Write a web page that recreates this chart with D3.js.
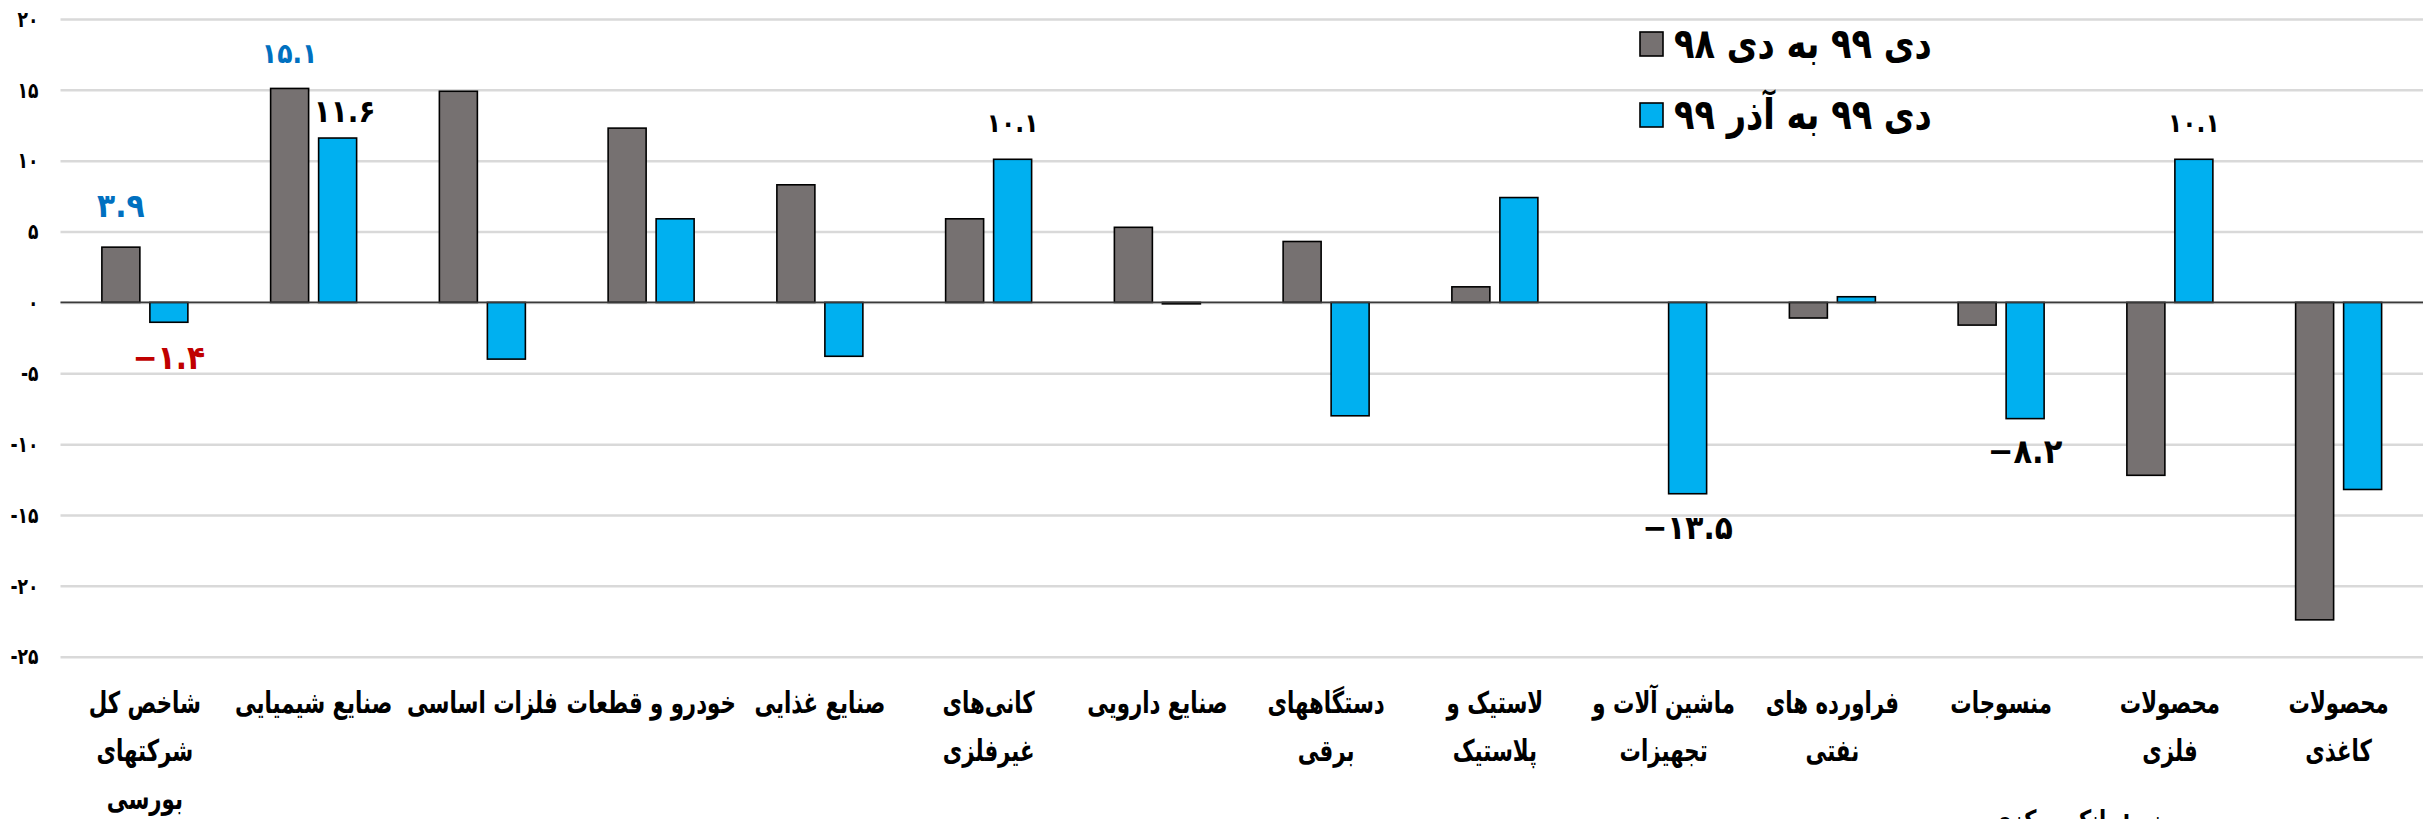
<!DOCTYPE html>
<html>
<head>
<meta charset="utf-8">
<script src="https://cdn.jsdelivr.net/npm/d3@7"></script>
<style>
  html, body { margin: 0; padding: 0; background: #fff; }
  svg { display: block; }
  text { font-family: "DejaVu Sans", sans-serif; font-weight: bold; }
</style>
</head>
<body>
<svg id="chart" width="2432" height="819"></svg>
<script>
// ---------- data ----------
const categories = [
  "شاخص کل\nشرکتهای\nبورسی",
  "صنایع شیمیایی",
  "فلزات اساسی",
  "خودرو و قطعات",
  "صنایع غذایی",
  "کانی‌های\nغیرفلزی",
  "صنایع دارویی",
  "دستگاههای\nبرقی",
  "لاستیک و\nپلاستیک",
  "ماشین آلات و\nتجهیزات",
  "فراورده های\nنفتی",
  "منسوجات",
  "محصولات\nفلزی",
  "محصولات\nکاغذی"
];
const seriesNames = ["دی ۹۹ به دی ۹۸", "دی ۹۹ به آذر ۹۹"];
const yoyValues = [3.9, 15.1, 14.9, 12.3, 8.3, 5.9, 5.3, 4.3, 1.1, 0, -1.1, -1.6, -12.2, -22.4];
const momValues = [-1.4, 11.6, -4.0, 5.9, -3.8, 10.1, -0.1, -8.0, 7.4, -13.5, 0.4, -8.2, 10.1, -13.2];
const yTickValues = [20, 15, 10, 5, 0, -5, -10, -15, -20, -25];
// labelled bars: category index and series index
const labelCategory = [0, 0, 1, 1, 5, 9, 11, 12];
const labelSeries   = [0, 1, 0, 1, 1, 1, 1, 1];
const sourceNote = "منبع: بانک مرکزی";

// ---------- helpers ----------
const faDigits = "۰۱۲۳۴۵۶۷۸۹";
function toFa(str) { return String(str).replace(/[0-9]/g, d => faDigits[+d]); }
function fmtVal(v) {
  const s = toFa(Math.abs(v).toFixed(1));
  return v < 0 ? "\u2212" + s : s;
}
function fmtTick(v) { return v < 0 ? "-" + toFa(Math.abs(v)) : toFa(v); }

// ---------- layout / styles ----------
const W = 2432, H = 819;
const plot = { left: 60.5, right: 2423, top: 19, bottom: 656.7 };
const colors = ["#767171", "#00B0F0"];
const labelStyle = [
  { fill: "#0070C0", size: 33, weight: "bold", off: 42, dx: 0 },
  { fill: "#C00000", size: 33, weight: "bold", off: 35, dx: 0 },
  { fill: "#0070C0", size: 28, weight: "bold", off: 35, dx: 0 },
  { fill: "#000000", size: 31, weight: "bold", off: 27, dx: 7 },
  { fill: "#000000", size: 26, weight: "normal", off: 36, dx: 0 },
  { fill: "#000000", size: 33, weight: "bold", off: 34, dx: 0 },
  { fill: "#000000", size: 34, weight: "bold", off: 33, dx: 0 },
  { fill: "#000000", size: 26, weight: "normal", off: 36, dx: 0 }
];
const condense = 0.71;
const labelCondense = 0.9;

const svg = d3.select("#chart");
svg.append("rect").attr("width", W).attr("height", H).attr("fill", "#fff");

const x0 = d3.scaleBand().domain(d3.range(categories.length))
  .range([plot.left, plot.right]).paddingInner(0).paddingOuter(0);
const groupW = 86;
const x1 = d3.scaleBand().domain([0, 1]).range([0, groupW]).paddingInner(2 - groupW / 48).paddingOuter(0);
const y = d3.scaleLinear().domain([-25, 20]).range([plot.bottom, plot.top]);
const barX = (ci, si) => x0(ci) + (x0.bandwidth() - groupW) / 2 + x1(si);

// gridlines + y tick labels
const yAxis = d3.axisLeft(y).tickValues(yTickValues).tickSize(-(plot.right - plot.left)).tickFormat(fmtTick).tickPadding(0);
const gAxis = svg.append("g").attr("transform", `translate(${plot.left},0)`).call(yAxis);
gAxis.select(".domain").remove();
gAxis.selectAll(".tick line").attr("stroke", "#d9d9d9").attr("stroke-width", 2.5);
gAxis.selectAll(".tick text")
  .attr("x", null).attr("dy", null)
  .attr("text-anchor", "end")
  .attr("dominant-baseline", "central")
  .attr("font-size", 22).attr("font-weight", "bold").attr("fill", "#000")
  .attr("transform", `translate(-22,0) scale(0.78,1)`)
  .style("font-family", "DejaVu Sans");

// bars
const series = [yoyValues, momValues];
series.forEach((vals, si) => {
  svg.append("g").selectAll("rect").data(vals).join("rect")
    .attr("x", (d, i) => barX(i, si))
    .attr("width", x1.bandwidth())
    .attr("y", d => y(Math.max(0, d)))
    .attr("height", d => Math.abs(y(d) - y(0)))
    .attr("fill", colors[si])
    .attr("stroke", "#000").attr("stroke-width", 1.6);
});

// zero line
svg.append("line").attr("x1", plot.left).attr("x2", plot.right)
  .attr("y1", y(0)).attr("y2", y(0)).attr("stroke", "#3a3a3a").attr("stroke-width", 1.8);

// value labels
labelCategory.forEach((ci, k) => {
  const si = labelSeries[k];
  const v = series[si][ci];
  const st = labelStyle[k];
  const cx = barX(ci, si) + x1.bandwidth() / 2 + st.dx;
  const cy = y(v) + (v >= 0 ? -st.off : st.off);
  svg.append("text")
    .attr("transform", `translate(${cx},${cy}) scale(${labelCondense},1)`)
    .attr("text-anchor", "middle").attr("dominant-baseline", "central")
    .attr("font-size", st.size).attr("font-weight", st.weight)
    .attr("fill", st.fill).attr("direction", "ltr")
    .text(fmtVal(v));
});

// category labels
categories.forEach((c, i) => {
  const cx = x0(i) + x0.bandwidth() / 2;
  const lines = c.split("\n");
  lines.forEach((ln, j) => {
    svg.append("text")
      .attr("transform", `translate(${cx},${703 + j * 48}) scale(${condense},1)`)
      .attr("text-anchor", "middle").attr("dominant-baseline", "central")
      .attr("font-size", 30).attr("fill", "#000")
      .text(ln);
  });
});

// legend
seriesNames.forEach((name, si) => {
  const ly = 44 + si * 71;
  svg.append("rect").attr("x", 1640).attr("y", ly - 12).attr("width", 23).attr("height", 24)
    .attr("fill", colors[si]).attr("stroke", "#000").attr("stroke-width", 1.6);
  svg.append("text")
    .attr("transform", `translate(1674,${ly}) scale(0.8,1)`)
    .attr("text-anchor", "start").attr("dominant-baseline", "central")
    .attr("font-size", 42).attr("fill", "#000")
    .text(name);
});

// source note (mostly cut off at the bottom edge, as in the reference)
svg.append("text")
  .attr("transform", `translate(2175,830) scale(0.75,1)`)
  .attr("text-anchor", "end")
  .attr("font-size", 28).attr("fill", "#000")
  .text(sourceNote);
</script>
</body>
</html>
